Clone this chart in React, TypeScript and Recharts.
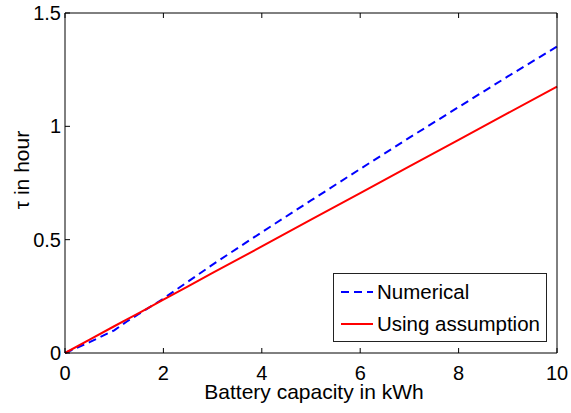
import React from "react"
import { LineChart, Line, XAxis, YAxis, Legend } from "recharts"

const capacity = [0, 0.5, 1, 1.25, 1.5, 2, 2.5, 3, 4, 5, 6, 7, 8, 9, 10]
const numerical = [0, 0.048, 0.1, 0.138, 0.172, 0.24, 0.315, 0.39, 0.533, 0.673, 0.812, 0.95, 1.085, 1.22, 1.352]
const usingAssumption = [0, 0.059, 0.118, 0.147, 0.176, 0.235, 0.294, 0.353, 0.47, 0.588, 0.705, 0.823, 0.94, 1.058, 1.175]
const xTicks = [0, 2, 4, 6, 8, 10]
const yTicks = [0, 0.5, 1, 1.5]

const data = capacity.map((c, i) => ({
  capacity: c,
  numerical: numerical[i],
  assumption: usingAssumption[i],
}))

const FONT = "'Liberation Sans', Arial, Helvetica, sans-serif"
const tickStyle = { fontSize: 20, fill: "#000", fontFamily: FONT }

function LegendBox({ payload }: any) {
  return (
    <div style={{ width: 214, height: 69, border: "1px solid #222", background: "#fff", boxSizing: "border-box" }}>
      <svg width={212} height={67} style={{ display: "block" }}>
        {(payload || []).map((p: any, i: number) => (
          <g key={p.value} transform={`translate(0, ${18 + i * 32})`}>
            <line
              x1={7}
              x2={39}
              y1={0}
              y2={0}
              stroke={p.color}
              strokeWidth={2}
              strokeDasharray={p.payload?.strokeDasharray}
            />
            <text x={43} y={7} fontSize={20.5} fontFamily={FONT} fill="#000">
              {p.value}
            </text>
          </g>
        ))}
      </svg>
    </div>
  )
}

export default function App() {
  return (
    <div style={{ position: "fixed", left: 0, top: 0, width: 571, height: 413, background: "#fff" }}>
      <LineChart width={571} height={413} data={data} margin={{ top: 12, right: 13, left: 0, bottom: 0 }}>
        <XAxis
          xAxisId="bottom"
          dataKey="capacity"
          type="number"
          domain={[0, 10]}
          ticks={xTicks}
          height={60}
          tickSize={-5}
          tickMargin={18}
          stroke="#000"
          tick={tickStyle}
          label={{
            content: ({ viewBox }: any) => (
              <text
                x={viewBox.x + viewBox.width / 2 + 3}
                y={viewBox.y + 46}
                textAnchor="middle"
                fontSize={21}
                fontFamily={FONT}
                fill="#000"
              >
                Battery capacity in kWh
              </text>
            ),
          }}
        />
        <XAxis
          xAxisId="top"
          orientation="top"
          dataKey="capacity"
          type="number"
          domain={[0, 10]}
          ticks={xTicks}
          height={1}
          tickSize={-5}
          tickFormatter={() => ""}
          stroke="#000"
        />
        <YAxis
          yAxisId="left"
          domain={[0, 1.5]}
          ticks={yTicks}
          width={65}
          tickSize={-5}
          tickMargin={9}
          stroke="#000"
          tick={tickStyle}
          label={{
            content: ({ viewBox }: any) => {
              const cx = 29
              const cy = viewBox.y + viewBox.height / 2 - 13
              return (
                <text
                  x={cx}
                  y={cy}
                  transform={`rotate(-90 ${cx} ${cy})`}
                  textAnchor="middle"
                  fontSize={21}
                  fontFamily={FONT}
                  fill="#000"
                >
                  τ in hour
                </text>
              )
            },
          }}
        />
        <YAxis
          yAxisId="right"
          orientation="right"
          domain={[0, 1.5]}
          ticks={yTicks}
          width={1}
          tickSize={-5}
          tickFormatter={() => ""}
          stroke="#000"
        />
        <Line
          xAxisId="bottom"
          yAxisId="left"
          type="linear"
          dataKey="numerical"
          name="Numerical"
          stroke="#0000ff"
          strokeWidth={2}
          strokeDasharray="8 5"
          dot={false}
          isAnimationActive={false}
        />
        <Line
          xAxisId="bottom"
          yAxisId="left"
          type="linear"
          dataKey="assumption"
          name="Using assumption"
          stroke="#ff0000"
          strokeWidth={2}
          dot={false}
          isAnimationActive={false}
        />
        <Legend
          layout="vertical"
          align="center"
          verticalAlign="middle"
          content={<LegendBox />}
          wrapperStyle={{ position: "absolute", left: 333, top: 273, width: 214, height: 69 }}
        />
      </LineChart>
    </div>
  )
}
